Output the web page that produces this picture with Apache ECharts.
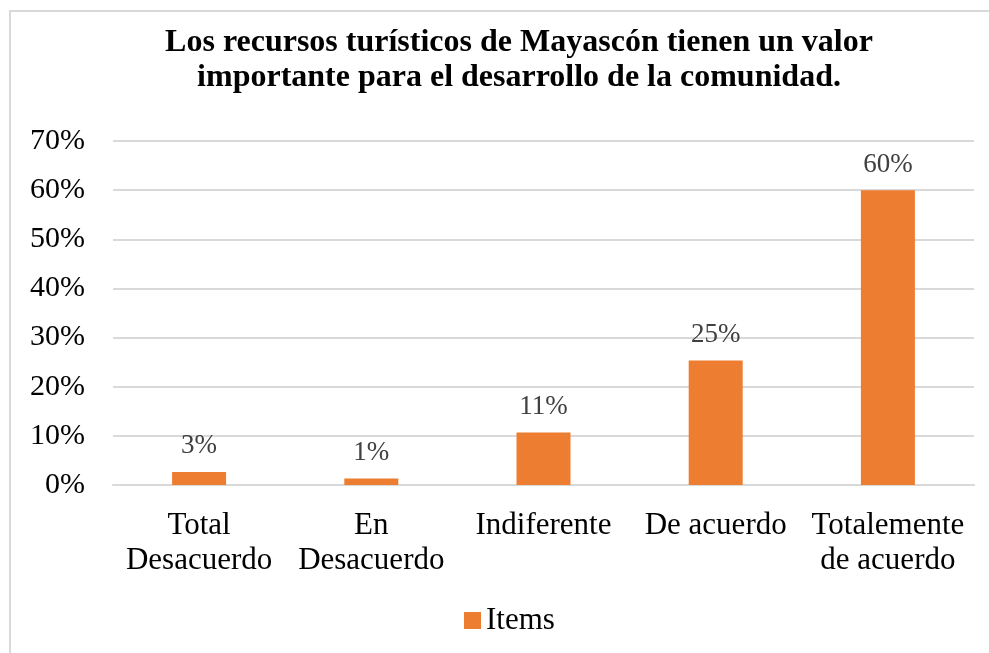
<!DOCTYPE html>
<html>
<head>
<meta charset="utf-8">
<script src="https://cdn.jsdelivr.net/npm/echarts@6/dist/echarts.min.js"></script>
<style>
  html, body { margin: 0; padding: 0; background: #fff; }
  #frame {
    position: absolute; left: 9px; top: 10px; width: 990px; height: 650px;
    border-left: 2px solid #d9d9d9; border-top: 2px solid #d9d9d9;
  }
  #chart { position: absolute; left: 0; top: 0; width: 989px; height: 653px; }
</style>
</head>
<body>
<div id="frame"></div>
<div id="chart"></div>
<script>
// datos de la encuesta (n = 75)
const categories = ['Total\nDesacuerdo', 'En\nDesacuerdo', 'Indiferente', 'De acuerdo', 'Totalemente\nde acuerdo']
const values = [2.67, 1.33, 10.67, 25.33, 60]
const seriesName = 'Items'
const titleText = 'Los recursos turísticos de Mayascón tienen un valor\nimportante para el desarrollo de la comunidad.'

const serif = '"Liberation Serif", "Times New Roman", serif'
const chart = echarts.init(document.getElementById('chart'))

chart.setOption({
  animation: false,
  title: {
    text: titleText,
    left: 514,
    top: 20,
    textAlign: 'center',
    textStyle: {
      fontFamily: serif,
      fontSize: 32,
      fontWeight: 'bold',
      color: '#000',
      lineHeight: 35
    }
  },
  legend: {
    data: [seriesName],
    top: 600,
    left: 459,
    itemWidth: 17,
    itemHeight: 17,
    icon: 'rect',
    textStyle: { fontFamily: serif, fontSize: 31, color: '#000' }
  },
  grid: { left: 113, right: 15, top: 141, bottom: 168 },
  xAxis: {
    type: 'category',
    data: categories,
    axisLine: { lineStyle: { color: '#d9d9d9', width: 2 } },
    axisTick: { show: false },
    axisLabel: {
      interval: 0,
      margin: 23,
      fontFamily: serif,
      fontSize: 31,
      lineHeight: 35,
      color: '#000'
    }
  },
  yAxis: {
    type: 'value',
    min: 0,
    max: 70,
    interval: 10,
    axisLine: { show: false },
    axisTick: { show: false },
    splitLine: { lineStyle: { color: '#d9d9d9', width: 2 } },
    axisLabel: {
      margin: 28,
      fontFamily: serif,
      fontSize: 30,
      color: '#000',
      formatter: v => v + '%'
    }
  },
  series: [{
    name: seriesName,
    type: 'bar',
    data: values,
    barWidth: 54,
    itemStyle: { color: '#ED7D31' },
    label: {
      show: true,
      position: 'top',
      distance: 12,
      fontFamily: serif,
      fontSize: 27,
      color: '#404040',
      formatter: p => Math.round(p.value) + '%'
    }
  }]
})
</script>
</body>
</html>
